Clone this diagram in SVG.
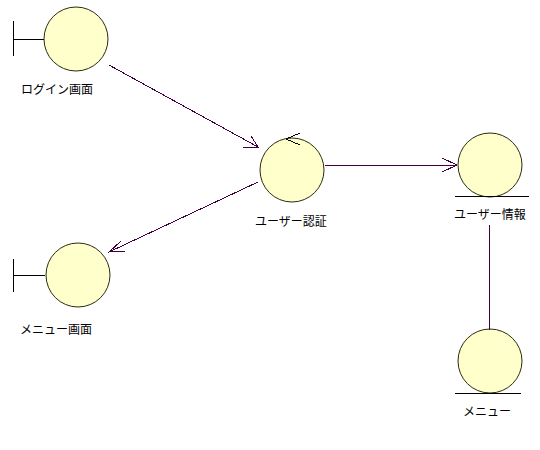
<svg xmlns="http://www.w3.org/2000/svg" width="540" height="450" viewBox="0 0 540 450">
<defs>
<style>
.obj{fill:#ffffcc;stroke:#2a2a10;stroke-width:1}
.sym{stroke:#000;stroke-width:1;fill:none;shape-rendering:crispEdges}
.conn{stroke:#40003d;stroke-width:1;fill:none;shape-rendering:crispEdges}
.lbl{font-family:"Noto Sans CJK JP","Noto Sans CJK SC",sans-serif;font-size:12px;fill:#000;text-anchor:middle;dominant-baseline:central}
</style>
</defs>
<rect width="540" height="450" fill="#fff"/>
<g id="login">
<line class="sym" x1="13.5" y1="21" x2="13.5" y2="56"/>
<line class="sym" x1="13" y1="39.5" x2="44" y2="39.5"/>
<circle class="obj" cx="76" cy="39" r="32"/>
<text class="lbl" x="57" y="88">ログイン画面</text>
</g>
<g id="auth">
<circle class="obj" cx="292" cy="170" r="32"/>
<line class="sym" x1="286" y1="139" x2="300" y2="133"/>
<line class="sym" x1="286" y1="139" x2="300" y2="145"/>
<text class="lbl" x="291" y="220">ユーザー認証</text>
</g>
<g id="userinfo">
<circle class="obj" cx="490" cy="165" r="32"/>
<line class="sym" x1="455" y1="196.5" x2="529" y2="196.5"/>
<text class="lbl" x="490" y="213">ユーザー情報</text>
</g>
<g id="menuscreen">
<line class="sym" x1="13.5" y1="259" x2="13.5" y2="292"/>
<line class="sym" x1="13" y1="275.5" x2="45" y2="275.5"/>
<circle class="obj" cx="78" cy="275" r="32"/>
<text class="lbl" x="56" y="328">メニュー画面</text>
</g>
<g id="menu">
<circle class="obj" cx="490" cy="361" r="32"/>
<line class="sym" x1="455" y1="393.5" x2="521" y2="393.5"/>
<text class="lbl" x="487" y="410">メニュー</text>
</g>
<g id="connectors">
<line class="conn" x1="109" y1="65" x2="258" y2="147"/>
<polyline class="conn" points="243,147 258,147 251,136"/>
<line class="conn" x1="258" y1="182" x2="109" y2="252"/>
<polyline class="conn" points="125,251 109,252 121,241"/>
<line class="conn" x1="325" y1="165.5" x2="457" y2="165.5"/>
<polyline class="conn" points="442,158 457,165 442,172"/>
<line class="conn" x1="489.5" y1="225" x2="489.5" y2="330"/>
</g>
</svg>
